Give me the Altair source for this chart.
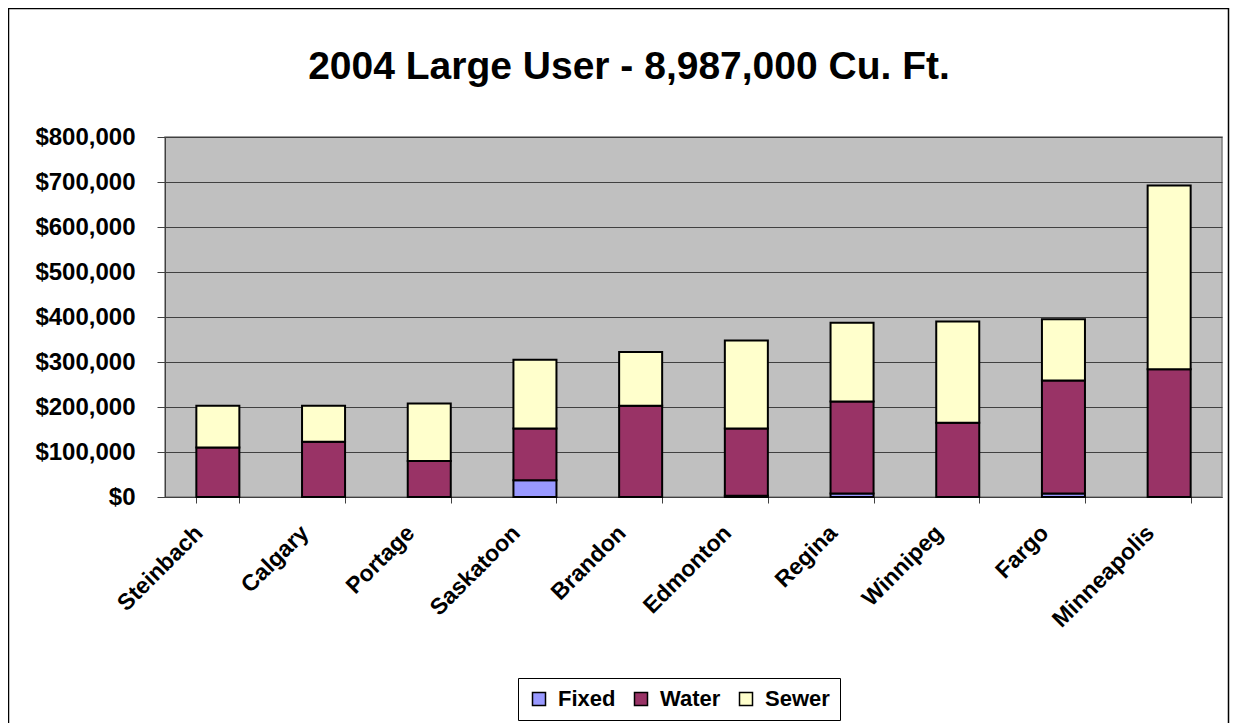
import altair as alt
import pandas as pd

cities = ["Steinbach", "Calgary", "Portage", "Saskatoon", "Brandon",
          "Edmonton", "Regina", "Winnipeg", "Fargo", "Minneapolis"]
fixed = [0, 0, 0, 37000, 0, 3000, 8000, 0, 8000, 0]
water = [110000, 123000, 80000, 115000, 203000, 149000, 204000, 165000, 251000, 284000]
sewer = [93000, 80000, 128000, 153000, 119000, 196000, 175000, 225000, 136000, 408000]
components = ["Fixed", "Water", "Sewer"]
colors = ["#9999FF", "#993366", "#FFFFCC"]
y_ticks = [0, 100000, 200000, 300000, 400000, 500000, 600000, 700000, 800000]
title_text = "2004 Large User - 8,987,000 Cu. Ft."

rows = []
for i, c in enumerate(cities):
    for k, (name, series) in enumerate(zip(components, [fixed, water, sewer])):
        rows.append({"city": c, "component": name, "value": series[i], "order": k})
df = pd.DataFrame(rows)

FONT = "Liberation Sans, Arial, Helvetica, sans-serif"

bars = alt.Chart(df).mark_bar(stroke="black", strokeWidth=2).encode(
    x=alt.X("city:N", sort=cities, title=None,
            scale=alt.Scale(paddingInner=0.593, paddingOuter=0.2965),
            axis=alt.Axis(labelAngle=-45, labelAlign="right", labelBaseline="middle",
                          labelFontSize=23, labelFontWeight="bold", labelColor="black",
                          labelFont=FONT, labelPadding=26, labelOffset=-19,
                          tickBand="extent", tickSize=6, tickColor="#404040",
                          domainColor="#404040", labelOverlap=False)),
    y=alt.Y("value:Q", stack="zero", title=None,
            scale=alt.Scale(domain=[0, 800000], nice=False),
            axis=alt.Axis(values=y_ticks, format="$,.0f", labelFontSize=24,
                          labelFontWeight="bold", labelColor="black", labelFont=FONT,
                          labelPadding=22, tickSize=8, tickColor="#404040",
                          domainColor="#404040", grid=True, gridColor="#404040",
                          gridWidth=1)),
    color=alt.Color("component:N",
                    scale=alt.Scale(domain=components, range=colors),
                    legend=alt.Legend(title=None, orient="none", legendX=353, legendY=541,
                                      direction="horizontal", strokeColor="black",
                                      fillColor="white", padding=10,
                                      labelFontSize=22, labelFontWeight="bold",
                                      labelFont=FONT, labelColor="black",
                                      symbolType="square", symbolSize=169,
                                      symbolStrokeColor="black", symbolStrokeWidth=1.5,
                                      labelOffset=8, columnPadding=14)),
    order=alt.Order("order:Q", sort="ascending"),
)

border = alt.Chart(alt.Data(values=[{"a": 1}])).mark_rect(
    fill=None, stroke="black", strokeWidth=1.5
).encode(
    x=alt.value(-156.5), x2=alt.value(1063.5),
    y=alt.value(-128.5), y2=alt.value(600),
)

title = alt.Chart(alt.Data(values=[{"t": title_text}])).mark_text(
    font=FONT, fontSize=39, fontWeight="bold", color="black",
    align="center", baseline="alphabetic"
).encode(
    text="t:N", x=alt.value(464), y=alt.value(-58),
)

chart = alt.layer(bars, border, title).properties(
    width=1057, height=360,
    padding={"left": 157, "top": 129, "right": 8, "bottom": 226},
    autosize=alt.AutoSizeParams(type="none"),
).configure_view(fill="#C0C0C0", stroke="#808080", strokeWidth=1.5)

chart.save("out.html", embed_options={"renderer": "svg", "actions": False})
